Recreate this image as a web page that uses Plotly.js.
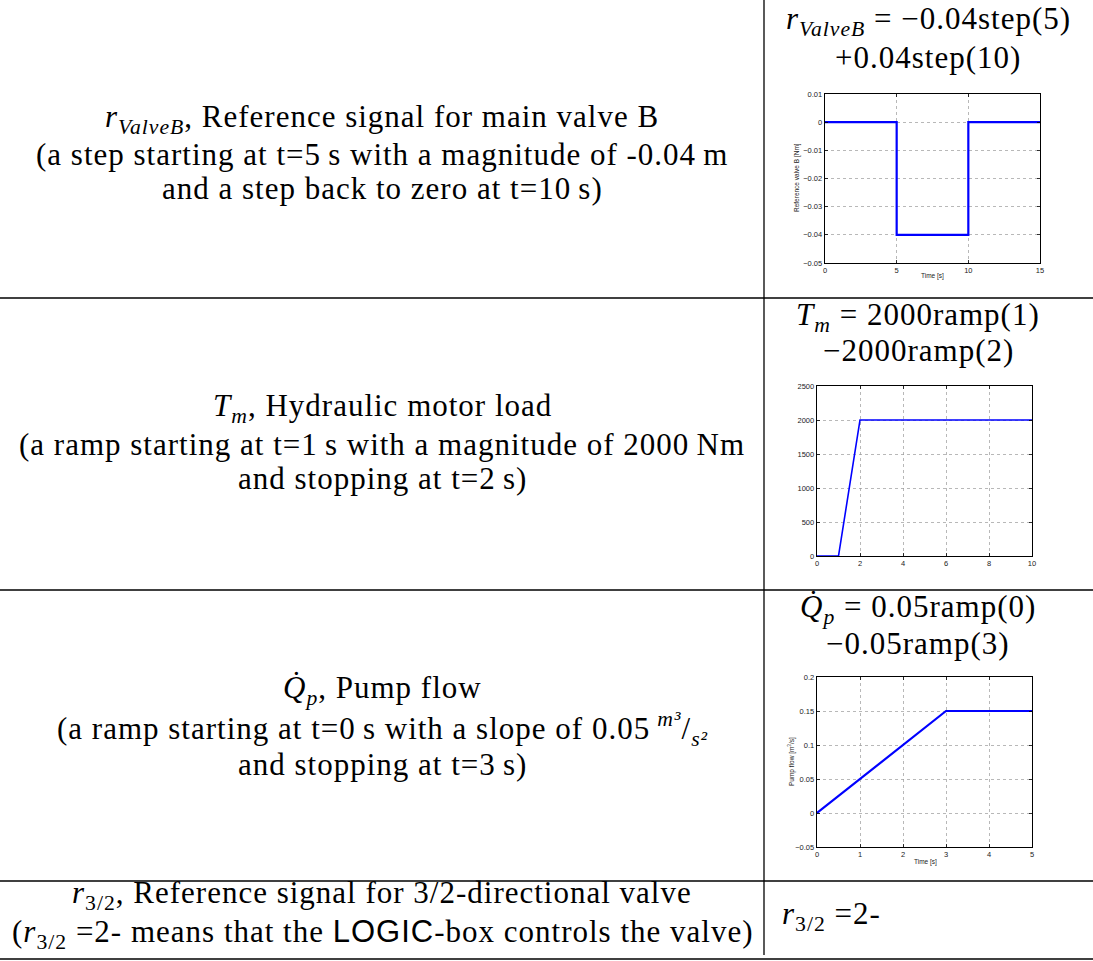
<!DOCTYPE html>
<html>
<head>
<meta charset="utf-8">
<script src="https://cdn.plot.ly/plotly-3.0.1.min.js"></script>
<style>
  html, body { margin: 0; padding: 0; background: #fff; }
  #chart { width: 1093px; height: 961px; }
</style>
</head>
<body>
<div id="chart"></div>
<script>
// ---- signal data ----
// main valve B reference: step down at t=5, back up at t=10
const valveTime = [0, 5, 5, 10, 10, 15];
const valveRef = [0, 0, -0.04, -0.04, 0, 0];

// hydraulic motor load: ramp from t=1 to t=2, then held at 2000
const loadTime = [0, 1, 2, 10];
const loadTorque = [0, 0, 2000, 2000];

// pump flow: ramp from t=0 to t=3, then held at 0.15
const pumpTime = [0, 3, 5];
const pumpFlow = [0, 0.15, 0.15];

// ---- page geometry helpers (pixels -> paper fractions) ----
const W = 1093, H = 961;
const fx = p => p / W;
const fy = p => 1 - p / H;

const SERIF = "Liberation Serif, Times New Roman, serif";
const SANS = "Liberation Sans, Arial, sans-serif";
const TXT = 31;

function axisStyle(extra) {
  return Object.assign({
    showline: true, linecolor: "#000", linewidth: 1.3, mirror: "all",
    ticks: "inside", ticklen: 3, tickcolor: "#000", tickwidth: 0.8,
    showgrid: true, gridcolor: "#9a9a9a", gridwidth: 0.7, griddash: "dot",
    zeroline: false, fixedrange: true,
    tickfont: { family: SANS, size: 7.5, color: "#222" },
    ticklabelstandoff: 0
  }, extra);
}

const lineStyle = w => ({ color: "#0000ff", width: w });

const traces = [
  { x: valveTime, y: valveRef, xaxis: "x", yaxis: "y", mode: "lines", line: lineStyle(2.2), hoverinfo: "skip" },
  { x: loadTime, y: loadTorque, xaxis: "x2", yaxis: "y2", mode: "lines", line: lineStyle(1.6), hoverinfo: "skip" },
  { x: pumpTime, y: pumpFlow, xaxis: "x3", yaxis: "y3", mode: "lines", line: lineStyle(2.2), hoverinfo: "skip" }
];

// table rules
const rule = (x0, y0, x1, y1) => ({
  type: "line", xref: "paper", yref: "paper",
  x0: fx(x0), y0: fy(y0), x1: fx(x1), y1: fy(y1),
  line: { color: "#000", width: 1.3 }
});
const shapes = [
  rule(764, 0, 764, 955),
  rule(0, 298, 1093, 298),
  rule(0, 590, 1093, 590),
  rule(0, 881, 1093, 881),
  rule(0, 959, 1093, 959)
];

// text cells (slightly spaced serif to get a book-style measure)
const note = (text, x, y, opts) => Object.assign({
  text: "<span style=\"letter-spacing:1px\">" + text + "</span>",
  xref: "paper", yref: "paper", x: fx(x), y: fy(y),
  xanchor: "center", yanchor: "middle", showarrow: false,
  font: { family: SERIF, size: TXT, color: "#000" }
}, opts || {});

const small = (text, x, y, angle) => ({
  text: text, xref: "paper", yref: "paper", x: fx(x), y: fy(y),
  xanchor: "center", yanchor: "middle", showarrow: false, textangle: angle || 0,
  font: { family: SANS, size: 6.5, color: "#222" }
});

const rV = "<i>r</i><sub><i>ValveB</i></sub>";
const Tm = "<i>T</i><sub><i>m</i></sub>";
const Qp = "<i>Q\u0307</i><sub><i>p</i></sub>";
const r32 = "<i>r</i><sub>3/2</sub>";

const annotations = [
  // row 1
  note(rV + ", Reference signal for main valve B", 382, 119),
  note("(a step starting at t=5\u2009s with a magnitude of -0.04\u2009m", 382, 155),
  note("and a step back to zero at t=10\u2009s)", 382, 189),
  note(rV + " = \u22120.04step(5)", 928, 21),
  note("+0.04step(10)", 928, 57),
  // row 2
  note(Tm + ", Hydraulic motor load", 382, 408),
  note("(a ramp starting at t=1\u2009s with a magnitude of 2000\u2009Nm", 382, 444),
  note("and stopping at t=2\u2009s)", 382, 478),
  note(Tm + " = 2000ramp(1)", 918, 317),
  note("\u22122000ramp(2)", 918, 351),
  // row 3
  note(Qp + ", Pump flow", 382, 690),
  note("(a ramp starting at t=0\u2009s with a slope of 0.05\u2009<sup><i>m\u00b3</i></sup>/<sub><i>s\u00b2</i></sub>", 382, 729),
  note("and stopping at t=3\u2009s)", 382, 764),
  note(Qp + " = 0.05ramp(0)", 918, 609),
  note("\u22120.05ramp(3)", 918, 643),
  // row 4
  note(r32 + ", Reference signal for 3/2-directional valve", 382, 895),
  note("(" + r32 + " =2\u2011 means that the <span style=\"font-family:'Liberation Sans'\">LOGIC</span>-box controls the valve)", 382, 934),
  note(r32 + " =2\u2011", 780, 916, { xanchor: "left" }),
  // axis titles of the small plots
  small("Time [s]", 932, 276),
  small("Reference valve B [Nm]", 797, 178, -90),
  small("Time [s]", 925, 862),
  small("Pump flow [m<sup>3</sup>/s]", 791, 762, -90)
];

const layout = {
  width: W, height: H,
  margin: { l: 0, r: 0, t: 0, b: 0, pad: 0 },
  paper_bgcolor: "#fff", plot_bgcolor: "#fff",
  showlegend: false,
  xaxis: axisStyle({ domain: [fx(825), fx(1040)], range: [0, 15], dtick: 5, tick0: 0, anchor: "y" }),
  yaxis: axisStyle({ domain: [fy(263), fy(94)], range: [-0.05, 0.01], dtick: 0.01, tick0: 0, anchor: "x" }),
  xaxis2: axisStyle({ domain: [fx(817), fx(1032)], range: [0, 10], dtick: 2, tick0: 0, anchor: "y2" }),
  yaxis2: axisStyle({ domain: [fy(556), fy(386)], range: [0, 2500], dtick: 500, tick0: 0, anchor: "x2" }),
  xaxis3: axisStyle({ domain: [fx(817), fx(1032)], range: [0, 5], dtick: 1, tick0: 0, anchor: "y3" }),
  yaxis3: axisStyle({ domain: [fy(847), fy(677)], range: [-0.05, 0.2], dtick: 0.05, tick0: 0, anchor: "x3" }),
  shapes: shapes,
  annotations: annotations
};

Plotly.newPlot("chart", traces, layout, { staticPlot: true, displayModeBar: false });
</script>
</body>
</html>
